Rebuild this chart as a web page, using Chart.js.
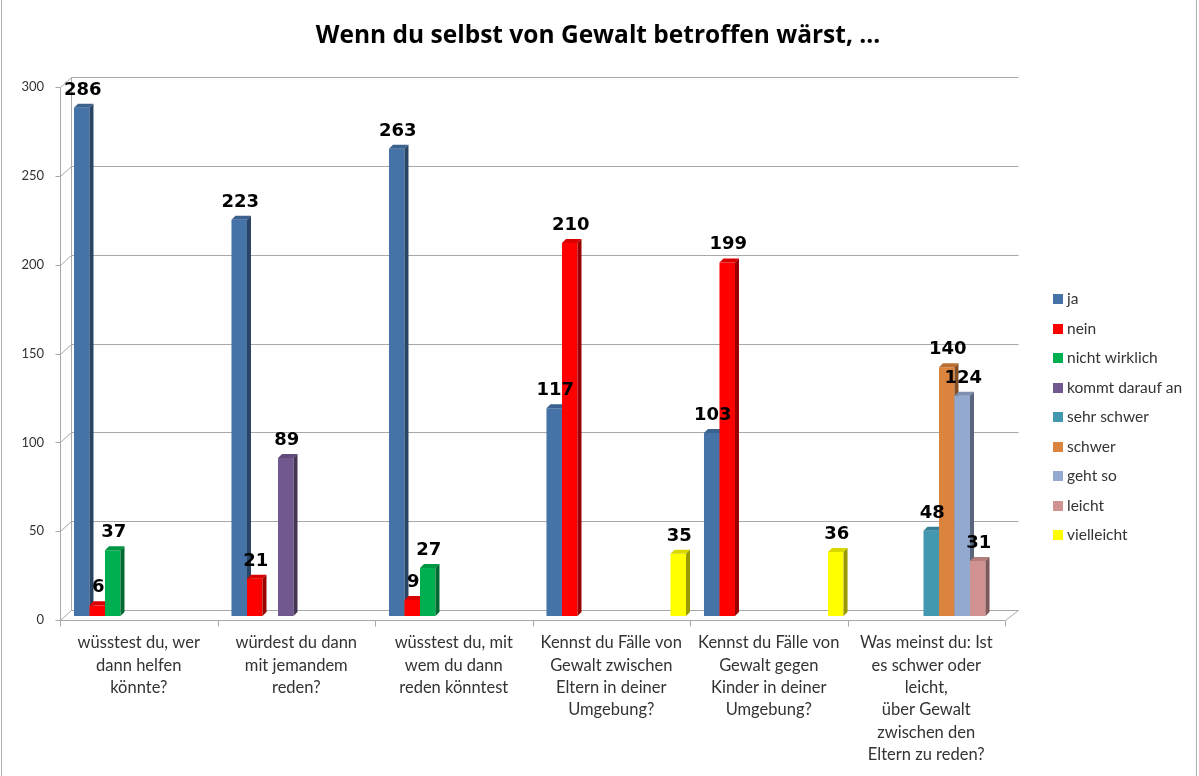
<!DOCTYPE html>
<html>
<head>
<meta charset="utf-8">
<script src="https://cdn.jsdelivr.net/npm/chart.js@4.4.1/dist/chart.umd.min.js"></script>
<style>
  html, body { margin: 0; background: #fff; }
  #wrap { width: 1199px; height: 776px; position: relative; }
</style>
</head>
<body>
<div id="wrap"><canvas id="chart" width="1199" height="776"></canvas></div>
<script>
// --- данные ---
const chartTitle = 'Wenn du selbst von Gewalt betroffen wärst, ...';
const categories = [
  ['wüsstest du, wer', 'dann helfen', 'könnte?'],
  ['würdest du dann', 'mit jemandem', 'reden?'],
  ['wüsstest du, mit', 'wem du dann', 'reden könntest'],
  ['Kennst du Fälle von', 'Gewalt zwischen', 'Eltern in deiner', 'Umgebung?'],
  ['Kennst du Fälle von', 'Gewalt gegen', 'Kinder in deiner', 'Umgebung?'],
  ['Was meinst du: Ist', 'es schwer oder', 'leicht,', 'über Gewalt', 'zwischen den', 'Eltern zu reden?']
];
const seriesNames = ['ja', 'nein', 'nicht wirklich', 'kommt darauf an', 'sehr schwer', 'schwer', 'geht so', 'leicht', 'vielleicht'];
const ja            = [286, 223, 263, 117, 103, null];
const nein          = [6, 21, 9, 210, 199, null];
const nichtWirklich = [37, null, 27, null, null, null];
const kommtDarauf   = [null, 89, null, null, null, null];
const sehrSchwer    = [null, null, null, null, null, 48];
const schwer        = [null, null, null, null, null, 140];
const gehtSo        = [null, null, null, null, null, 124];
const leicht        = [null, null, null, null, null, 31];
const vielleicht    = [null, null, null, 35, 36, null];
const yTicks = [0, 50, 100, 150, 200, 250, 300];

const seriesValues = [ja, nein, nichtWirklich, kommtDarauf, sehrSchwer, schwer, gehtSo, leicht, vielleicht];
const seriesColors = ['#4572A7', '#FF0000', '#00B050', '#71588F', '#4198AF', '#DB843D', '#93A9CF', '#D19392', '#FFFF00'];

// --- 3D-оформление ---
const DEPTH = 4;                    // глубина столбика
const WALL = { dx: 11, dy: -10 };   // смещение задней стенки
const SHIFT = { dx: 5, dy: -4 };    // столбики стоят в середине "пола"
const GRID = '#a8a8a8';

function shade(hex, f) {
  const n = parseInt(hex.slice(1), 16);
  const r = Math.round(((n >> 16) & 255) * f);
  const g = Math.round(((n >> 8) & 255) * f);
  const b = Math.round((n & 255) * f);
  return `rgb(${r},${g},${b})`;
}

function line(ctx, pts) {
  ctx.beginPath();
  ctx.moveTo(pts[0][0], pts[0][1]);
  for (let i = 1; i < pts.length; i++) ctx.lineTo(pts[i][0], pts[i][1]);
  ctx.stroke();
}

function poly(ctx, pts, color) {
  ctx.beginPath();
  ctx.moveTo(pts[0][0], pts[0][1]);
  for (let i = 1; i < pts.length; i++) ctx.lineTo(pts[i][0], pts[i][1]);
  ctx.closePath();
  ctx.fillStyle = color;
  ctx.fill();
}

// стенки, сетка и пол
const wallsPlugin = {
  id: 'walls',
  beforeDatasetsDraw(chart) {
    const { ctx, chartArea: a, scales: { y } } = chart;
    const top = Math.round(y.getPixelForValue(yTicks[yTicks.length - 1]));
    const bottom = Math.round(a.bottom);
    ctx.save();
    ctx.strokeStyle = GRID;
    ctx.lineWidth = 1;
    ctx.translate(0.5, 0.5);
    yTicks.forEach(v => {
      const py = Math.round(y.getPixelForValue(v));
      line(ctx, [[a.left + WALL.dx, py + WALL.dy], [a.right + WALL.dx + 2, py + WALL.dy]]);
      line(ctx, [[a.left - 5, py], [a.left, py], [a.left + WALL.dx, py + WALL.dy]]);
    });
    line(ctx, [[a.left + WALL.dx, top + WALL.dy], [a.left + WALL.dx, bottom + WALL.dy]]);
    line(ctx, [[a.left, top], [a.left, bottom]]);
    line(ctx, [[a.left, bottom], [a.right, bottom], [a.right + WALL.dx + 2, bottom + WALL.dy]]);
    const w = (a.right - a.left) / categories.length;
    for (let k = 0; k <= categories.length; k++) {
      const px = Math.round(a.left + k * w);
      line(ctx, [[px, bottom], [px, bottom + 6]]);
    }
    ctx.restore();
  }
};

// столбики с боковой и верхней гранью + подписи значений
const bars3dPlugin = {
  id: 'bars3d',
  beforeDatasetDraw() { return false; },
  afterDatasetsDraw(chart) {
    const { ctx } = chart;
    ctx.save();
    ctx.translate(SHIFT.dx, SHIFT.dy);
    categories.forEach((_, j) => {
      chart.data.datasets.forEach((ds, i) => {
        if (ds.data[j] == null) return;
        const el = chart.getDatasetMeta(i).data[j];
        const { x, y, base, width } = el.getProps(['x', 'y', 'base', 'width'], true);
        const l = x - width / 2, r = x + width / 2;
        poly(ctx, [[l, y], [r, y], [r, base], [l, base]], ds.backgroundColor);
        poly(ctx, [[l, y], [l + DEPTH, y - DEPTH], [r + DEPTH, y - DEPTH], [r, y]], shade(ds.backgroundColor, 0.85));
        poly(ctx, [[r, y], [r + DEPTH, y - DEPTH], [r + DEPTH, base - DEPTH], [r, base]], shade(ds.backgroundColor, 0.6));
      });
    });
    ctx.font = 'bold 18px "DejaVu Sans"';
    ctx.fillStyle = '#000';
    ctx.textAlign = 'center';
    ctx.textBaseline = 'alphabetic';
    chart.data.datasets.forEach((ds, i) => {
      chart.getDatasetMeta(i).data.forEach((el, j) => {
        if (ds.data[j] == null) return;
        ctx.fillText(String(ds.data[j]), el.x + 1, el.y - 13);
      });
    });
    ctx.restore();
  }
};

// заголовок, легенда справа и рамка
const decorPlugin = {
  id: 'decor',
  afterDraw(chart) {
    const { ctx } = chart;
    ctx.save();
    ctx.font = 'bold 24.5px "Open Sans"';
    ctx.fillStyle = '#000';
    ctx.textAlign = 'center';
    ctx.textBaseline = 'alphabetic';
    ctx.fillText(chartTitle, 598, 43);

    ctx.font = '15.5px Lato';
    ctx.textAlign = 'left';
    ctx.textBaseline = 'middle';
    chart.data.datasets.forEach((ds, i) => {
      const yy = 299 + i * 29.5;
      ctx.fillStyle = ds.backgroundColor;
      ctx.fillRect(1053, Math.round(yy - 5), 10, 10);
      ctx.fillStyle = '#333';
      ctx.fillText(ds.label, 1067, yy);
    });
    ctx.strokeStyle = '#b0b0b0';
    ctx.lineWidth = 1;
    line(ctx, [[1.5, 0], [1.5, 776]]);
    line(ctx, [[1196.5, 0], [1196.5, 776]]);
    ctx.restore();
  }
};

new Chart(document.getElementById('chart'), {
  type: 'bar',
  data: {
    labels: categories,
    datasets: seriesNames.map((name, i) => ({
      label: name,
      data: seriesValues[i],
      backgroundColor: seriesColors[i],
      borderWidth: 0,
      barPercentage: 1,
      categoryPercentage: 0.886
    }))
  },
  options: {
    responsive: false,
    animation: false,
    layout: { padding: { left: 0, right: 194, top: 87, bottom: 0 } },
    plugins: {
      legend: { display: false },
      tooltip: { enabled: false },
      title: { display: false }
    },
    scales: {
      x: {
        grid: { display: false, drawTicks: false },
        border: { display: false },
        ticks: {
          color: '#333',
          font: { family: 'Lato', size: 16.5, lineHeight: 1.35 },
          padding: 12,
          maxRotation: 0,
          autoSkip: false
        },
        afterFit(scale) { scale.height = 156; }
      },
      y: {
        min: 0,
        max: 300,
        grid: { display: false, drawTicks: false },
        border: { display: false },
        afterBuildTicks(scale) { scale.ticks = yTicks.map(v => ({ value: v })); },
        ticks: {
          color: '#333',
          font: { family: 'Lato', size: 13 },
          padding: 16
        },
        afterFit(scale) { scale.width = 60; }
      }
    }
  },
  plugins: [wallsPlugin, bars3dPlugin, decorPlugin]
});
</script>
</body>
</html>
